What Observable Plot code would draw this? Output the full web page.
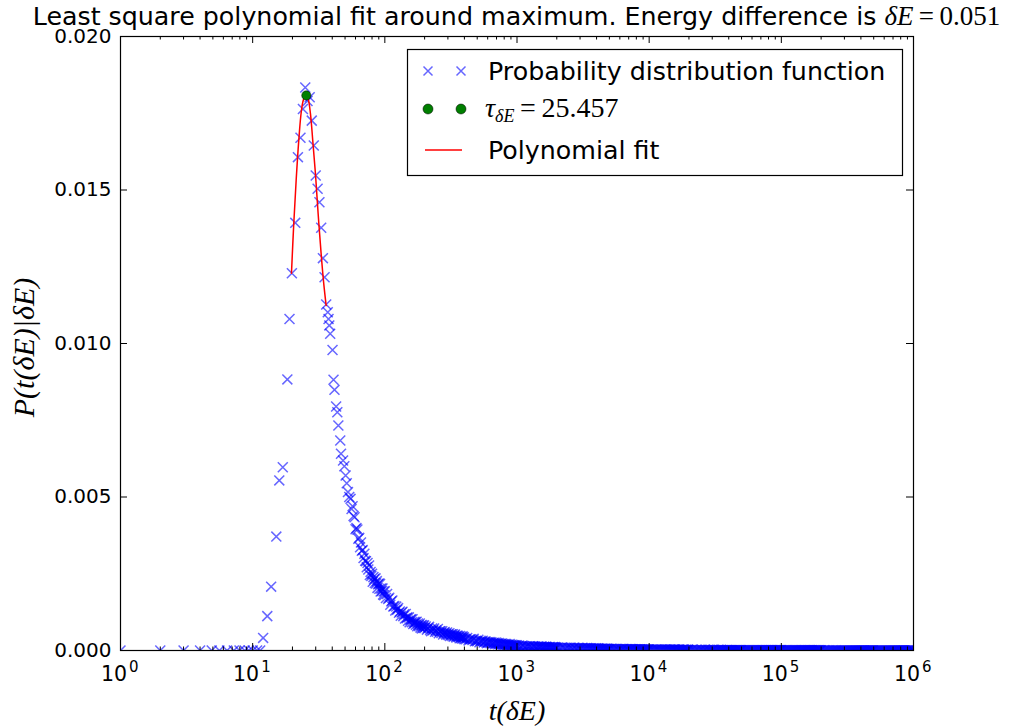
<!DOCTYPE html>
<html><head><meta charset="utf-8">
<script src="https://cdn.jsdelivr.net/npm/d3@7"></script>
<script src="https://cdn.jsdelivr.net/npm/@observablehq/plot@0.6"></script>
<style>
body{margin:0;background:#fff;width:1015px;height:727px;position:relative;overflow:hidden;font-family:"DejaVu Sans";}
#title{position:absolute;left:516.5px;top:7.5px;transform:translateX(-50%);white-space:nowrap;font-family:"DejaVu Sans";font-size:25.3px;line-height:16px;color:#000;}
#chart{position:absolute;left:0;top:30px;}
#chart svg{overflow:visible;}
#legend{position:absolute;left:407px;top:49px;overflow:visible;}
</style></head><body>
<div id="title">Least square polynomial fit around maximum. Energy difference is <span style="font-family:'Liberation Serif';font-size:27px;line-height:16px"><i>δE</i>&#8201;=&#8201;0.051</span></div>
<div id="chart"></div>
<svg id="legend" width="497" height="128"></svg>
<script>
// ---- data ----
// peak region
const pdfT = [1,2,3,4,4.9,5.6,6.4,7.2,7.95,8.7,9.35,10.0,10.8,11.4,
  12.0,12.9,13.8,15.1,15.9,16.9,18.3,19.0,19.8,21,22,23,24,25,26,27,28,29,30,31,32,33,34,35,36,37,37.5,38,38.6,40.2,40.9,41.6,42.8,43.7,44.5,46.0,46.6,48.3,49.4,50.5,51.5,52.6,53.8];
const pdfP = [0,0,0,0,0,0,0,0,0,0,0,0,0,0,
  0.00041,0.00112,0.00208,0.00371,0.00554,0.00597,0.00883,0.0108,0.01229,0.01393,0.01607,0.0167,0.01764,0.01834,0.0179,0.01802,0.01726,0.01645,0.01547,0.01504,0.0146,0.01377,0.01278,0.01216,0.01127,0.01102,0.0108,0.01059,0.01032,0.00979,0.00882,0.00849,0.00795,0.00776,0.00733,0.00684,0.00641,0.00619,0.006,0.0057,0.00545,0.00516,0.005];

// decaying band (dense, noisy)
const midT = [55,56,57,58,59,60,61,62,63,64,65,66,67,68,69,70,71,72,73,74,75,76,77,78,79,80,81,82,83,84,85,86,87,88,89,90,91,92,93,94,95,96,97,98,99,100,
  102,104,106,108,110,112,114,116,118,120,122,124,126,128,130,132,134,136,138,140,142,144,146,148,150,152,154,156,158,160,162,164,166,168,170,172,174,176,178,180,182,184,186,188,190,192,194,196,198,200,
  204,208,212,216,220,224,228,232,236,240,244,248,252,256,260,264,268,272,276,280,284,288,292,296,300,304,308,312,316,320,324,328,332,336,340,344,348,352,356,360,364,368,372,376,380,384,388,392,396,400,
  410,420,430,440,450,460,470,480,490,500,510,520,530,540,550,560,570,580,590,600,610,620,630,640,650,660,670,680,690,700,710,720,730,740,750,760,770,780,790,800,810,820,830,840,850,860,870,880,890,900,910,920,930,940,950,960,970,980,990,1000];
const midP = [0.00494,0.00461,0.0047,0.00438,0.00434,0.00395,0.00399,0.00394,0.00364,0.00367,0.00336,0.00352,0.00325,0.00327,0.00301,0.00315,0.00292,0.00291,0.00271,0.00285,0.00264,0.00277,0.00246,0.00256,0.00243,0.0025,0.00224,0.00239,0.00232,0.0022,0.00235,0.00218,0.00226,0.00204,0.00216,0.00218,0.00201,0.00217,0.00192,0.00202,0.00194,0.00202,0.00182,0.00192,0.0018,0.00193,
  0.00171,0.00184,0.00168,0.00172,0.00149,0.0016,0.00163,0.00143,0.00145,0.0013,0.00143,0.00133,0.00138,0.00123,0.00127,0.00113,0.00124,0.00126,0.00112,0.00118,0.00104,0.00119,0.00105,0.00108,0.00097,0.00108,0.00092,0.001,0.00102,0.00092,0.00102,0.00086,0.00093,0.00089,0.00093,0.00084,0.00094,0.00079,0.00088,0.00083,0.0008,0.00088,0.00075,0.00082,0.00072,0.00083,0.00078,0.00073,0.00082,0.00073,
  0.00078,0.00068,0.00073,0.00077,0.00067,0.00063,0.00072,0.00066,0.00072,0.00061,0.00066,0.00061,0.0007,0.00056,0.00063,0.00063,0.00057,0.00063,0.00052,0.00058,0.0006,0.00055,0.00051,0.00059,0.00053,0.0005,0.00056,0.00047,0.00052,0.00053,0.00047,0.00053,0.00045,0.00049,0.00052,0.00046,0.00042,0.00048,0.00048,0.00045,0.00045,0.0004,0.00047,0.00041,0.00044,0.00039,0.00046,0.0004,0.00043,0.00037,
  0.00037,0.00041,0.00033,0.00037,0.00037,0.00034,0.00038,0.0003,0.00032,0.0003,0.00035,0.00027,0.00032,0.00029,0.00032,0.00026,0.00029,0.00029,0.00024,0.00027,0.00025,0.00028,0.00024,0.00027,0.00022,0.00024,0.00025,0.00021,0.00026,0.00022,0.00024,0.0002,0.00024,0.0002,0.00022,0.00019,0.00023,0.00019,0.00021,0.00017,0.00021,0.00019,0.00021,0.00018,0.00018,0.00019,0.00016,0.00021,0.00016,0.00018,0.00015,0.00019,0.00015,0.00018,0.00014,0.00017,0.00013,0.00017,0.00014,0.00017];

// far tail: times = mantissa x decade; two interleaved sets of mantissas, one value list per decade and set
const tailMantissaA = [1.04,1.08,1.12,1.16,1.2,1.24,1.28,1.32,1.36,1.4,1.44,1.48,1.52,1.56,1.6,1.64,1.68,1.72,1.76,1.8,1.84,1.88,1.92,1.96,2,
  2.1,2.2,2.3,2.4,2.5,2.6,2.7,2.8,2.9,3,3.1,3.2,3.3,3.4,3.5,3.6,3.7,3.8,3.9,4,4.1,4.2,4.3,4.4,4.5,4.6,4.7,4.8,4.9,5,
  5.2,5.4,5.6,5.8,6,6.2,6.4,6.6,6.8,7,7.2,7.4,7.6,7.8,8,8.2,8.4,8.6,8.8,9,9.2,9.4,9.6,9.8,10];
const tailMantissaB = [1.02,1.06,1.1,1.14,1.18,1.22,1.26,1.3,1.34,1.38,1.42,1.46,1.5,1.54,1.58,1.62,1.66,1.7,1.74,1.78,1.82,1.86,1.9,1.94,1.98,
  2.05,2.15,2.25,2.35,2.45,2.55,2.65,2.75,2.85,2.95,3.05,3.15,3.25,3.35,3.45,3.55,3.65,3.75,3.85,3.95,4.05,4.15,4.25,4.35,4.45,4.55,4.65,4.75,4.85,4.95,
  5.1,5.3,5.5,5.7,5.9,6.1,6.3,6.5,6.7,6.9,7.1,7.3,7.5,7.7,7.9,8.1,8.3,8.5,8.7,8.9,9.1,9.3,9.5,9.7,9.9];
const tailDecades = [1000, 10000, 100000];
const tailP3A = [0.00016,0.00013,0.00015,0.00012,0.00014,0.00013,0.00011,0.00014,0.00012,0.0001,0.00013,0.00011,0.00012,0.0001,0.00012,0.00009,0.00011,0.0001,0.00011,0.00009,0.0001,0.00011,0.00008,0.0001,0.00009,
  0.00008,0.0001,0.00007,0.00009,0.00008,0.00007,0.00009,0.00006,0.00008,0.00007,0.00008,0.00006,0.00007,0.00008,0.00006,0.00007,0.00005,0.00007,0.00006,0.00005,0.00007,0.00006,0.00005,0.00006,0.00004,0.00006,0.00005,0.00006,0.00004,0.00005,
  0.00006,0.00004,0.00005,0.00004,0.00005,0.00003,0.00005,0.00004,0.00004,0.00003,0.00005,0.00004,0.00003,0.00004,0.00003,0.00004,0.00003,0.00003,0.00004,0.00002,0.00003,0.00003,0.00002,0.00003,0.00003];
const tailP3B = [0.00014,0.00012,0.00016,0.00011,0.00013,0.00012,0.00014,0.0001,0.00013,0.00012,0.0001,0.00012,0.00011,0.00013,0.00009,0.00011,0.00012,0.00009,0.0001,0.00011,0.00009,0.0001,0.00009,0.00011,0.00008,
  0.00009,0.00008,0.00009,0.00007,0.00008,0.00009,0.00006,0.00008,0.00007,0.00008,0.00006,0.00008,0.00007,0.00006,0.00007,0.00006,0.00007,0.00005,0.00006,0.00007,0.00005,0.00006,0.00005,0.00006,0.00005,0.00004,0.00006,0.00005,0.00005,0.00004,
  0.00005,0.00005,0.00004,0.00005,0.00003,0.00004,0.00005,0.00003,0.00004,0.00004,0.00003,0.00004,0.00004,0.00003,0.00004,0.00003,0.00003,0.00004,0.00003,0.00003,0.00002,0.00003,0.00003,0.00002,0.00003];
const tailP4A = [0.00003,0.00002,0.00003,0.00003,0.00002,0.00003,0.00002,0.00003,0.00002,0.00002,0.00003,0.00002,0.00002,0.00003,0.00002,0.00002,0.00002,0.00001,0.00002,0.00002,0.00002,0.00001,0.00002,0.00002,0.00001,
  0.00002,0.00001,0.00002,0.00001,0.00002,0.00001,0.00001,0.00002,0.00001,0.00001,0.00002,0.00001,0.00001,0.00001,0.00002,0.00001,0.00001,0.00001,0.000012,0.00001,0.000009,0.00001,0.000011,0.000009,0.00001,0.000009,0.00001,0.000008,0.00001,0.000009,
  0.00001,0.000008,0.00001,0.00001,0.000008,0.00001,0.000008,0.000008,0.00001,0.000008,0.000008,0.000007,0.000008,0.000008,0.000007,0.000008,0.000007,0.000007,0.000008,0.000006,0.000007,0.000007,0.000006,0.000007,0.000006];
const tailP4B = [0.00002,0.00003,0.00002,0.00003,0.00002,0.00002,0.00003,0.00002,0.00002,0.00003,0.00002,0.00002,0.00002,0.00003,0.00002,0.00001,0.00002,0.00002,0.00001,0.00002,0.00002,0.00001,0.00002,0.00001,0.00002,
  0.00001,0.00002,0.00001,0.00001,0.00002,0.00001,0.00002,0.00001,0.00001,0.00001,0.00002,0.00001,0.00001,0.00002,0.00001,0.00001,0.00001,0.00001,0.00001,0.000009,0.00001,0.000011,0.00001,0.000009,0.00001,0.000008,0.00001,0.000009,0.00001,0.000008,
  0.000009,0.00001,0.000008,0.000009,0.00001,0.000008,0.000009,0.000008,0.000007,0.000009,0.000008,0.000008,0.000007,0.000008,0.000007,0.000007,0.000008,0.000006,0.000007,0.000007,0.000006,0.000007,0.000006,0.000006,0.000006];
const tailP5A = [0.000006,0.000006,0.000005,0.000006,0.000005,0.000005,0.000006,0.000005,0.000005,0.000005,0.000004,0.000005,0.000005,0.000004,0.000005,0.000004,0.000004,0.000005,0.000004,0.000004,0.000004,0.000004,0.000004,0.000003,0.000004,
  0.000004,0.000003,0.000004,0.000003,0.000003,0.000004,0.000003,0.000003,0.000003,0.000003,0.000003,0.000003,0.000002,0.000003,0.000003,0.000003,0.000002,0.000003,0.000002,0.000003,0.000002,0.000002,0.000003,0.000002,0.000002,0.000002,0.000002,0.000002,0.000002,0.000002,
  0.000002,0.000002,0.000002,0.000002,0.000002,0.000001,0.000002,0.000002,0.000001,0.000002,0.000002,0.000001,0.000002,0.000001,0.000001,0.000002,0.000001,0.000001,0.000001,0.000001,0.000001,0.000001,0.000001,0.000001,0.000001];
const tailP5B = [0.000005,0.000006,0.000006,0.000005,0.000005,0.000006,0.000005,0.000004,0.000005,0.000005,0.000005,0.000004,0.000005,0.000004,0.000004,0.000005,0.000004,0.000004,0.000004,0.000005,0.000003,0.000004,0.000004,0.000004,0.000003,
  0.000003,0.000004,0.000003,0.000003,0.000004,0.000003,0.000003,0.000003,0.000002,0.000003,0.000003,0.000002,0.000003,0.000003,0.000002,0.000003,0.000002,0.000002,0.000003,0.000002,0.000002,0.000002,0.000002,0.000002,0.000002,0.000001,0.000002,0.000002,0.000002,0.000001,
  0.000002,0.000001,0.000002,0.000002,0.000001,0.000002,0.000001,0.000002,0.000001,0.000001,0.000002,0.000001,0.000001,0.000001,0.000001,0.000001,0.000001,0.000001,0.000001,0.000001,0.000001,0.000001,0.000001,0.000001,0.000001];

const fitT = [19.66,20.46,21.33,22.32,23.39,24.35,25.46,26.29,27.36,28.49,29.86,31.30,32.97,34.50,35.97];
const fitP = [0.01229,0.0139,0.01531,0.01661,0.01759,0.01797,0.01808,0.01797,0.01749,0.01661,0.01553,0.01422,0.01292,0.01195,0.01124];

const tauT = [25.457];
const tauP = [0.01808];

const xMajorTicks = [1,10,100,1000,10000,100000,1000000];
const xMinorFactors = [2,3,4,5,6,7,8,9];
const yTicks = [0,0.005,0.010,0.015,0.020];
const yTickLabels = ["0.000","0.005","0.010","0.015","0.020"];
const legendLabels = ["Probability distribution function","τ","Polynomial fit"];

// ---- build tables ----
const tailSets = [
  [tailMantissaA, [tailP3A, tailP4A, tailP5A]],
  [tailMantissaB, [tailP3B, tailP4B, tailP5B]]
];
const pdf = [
  ...pdfT.map((t,i)=>({t, p: pdfP[i]})),
  ...midT.map((t,i)=>({t, p: midP[i]})),
  ...tailSets.flatMap(([mant, lists]) => tailDecades.flatMap((d,k)=>mant.map((m,i)=>({t: m*d, p: lists[k][i]}))))
];
const fit = fitT.map((t,i)=>({t, p: fitP[i]}));
const tau = tauT.map((t,i)=>({t, p: tauP[i]}));
const xMinorTicks = xMajorTicks.slice(0,-1).flatMap(m => xMinorFactors.map(f => m*f));
const yTickData = yTicks.map((v,i)=>({v, label: yTickLabels[i]}));

const W = 1015, H = 697, mL = 120, mR = 102, mT = 6, mB = 77;
const fw = W - mL - mR, fh = H - mT - mB;
const majorLen = 7, minorLen = 3.5;
const tickFont = "DejaVu Sans";

const chart = Plot.plot({
  width: W, height: H,
  marginLeft: mL, marginRight: mR, marginTop: mT, marginBottom: mB,
  x: {type: "log", domain: [1, 1e6], axis: null},
  y: {domain: [0, 0.02], axis: null},
  style: {background: "white", overflow: "visible"},
  marks: [
    Plot.dot(pdf, {x: "t", y: "p", symbol: "times", r: 4.6, stroke: "blue", strokeOpacity: 0.6, strokeWidth: 1.5, clip: true}),
    Plot.line(fit, {x: "t", y: "p", stroke: "red", strokeWidth: 1.5, curve: "catmull-rom"}),
    Plot.dot(tau, {x: "t", y: "p", r: 4.6, fill: "#007f00", stroke: "black", strokeWidth: 0.5}),
    // ticks inside the frame on all four sides
    Plot.tickX(xMajorTicks, {x: d=>d, stroke: "black", strokeWidth: 1, insetTop: fh - majorLen}),
    Plot.tickX(xMajorTicks, {x: d=>d, stroke: "black", strokeWidth: 1, insetBottom: fh - majorLen}),
    Plot.tickX(xMinorTicks, {x: d=>d, stroke: "black", strokeWidth: 1, insetTop: fh - minorLen}),
    Plot.tickX(xMinorTicks, {x: d=>d, stroke: "black", strokeWidth: 1, insetBottom: fh - minorLen}),
    Plot.tickY(yTicks, {y: d=>d, stroke: "black", strokeWidth: 1, insetRight: fw - majorLen}),
    Plot.tickY(yTicks, {y: d=>d, stroke: "black", strokeWidth: 1, insetLeft: fw - majorLen}),
    Plot.frame({stroke: "black", strokeWidth: 1.2}),
    // y tick labels
    Plot.text(yTickData, {y: "v", text: "label", frameAnchor: "left", textAnchor: "end", lineAnchor: "middle", dx: -9, fontSize: 20, fontFamily: tickFont, fill: "black"}),
    // x tick labels: 10 with superscript exponent
    Plot.text(xMajorTicks, {x: d=>d, text: () => "10", frameAnchor: "bottom", textAnchor: "end", lineAnchor: "middle", dx: 6.5, dy: 23.5, fontSize: 20.5, fontFamily: tickFont, fill: "black"}),
    Plot.text(xMajorTicks, {x: d=>d, text: d => String(Math.round(Math.log10(d))), frameAnchor: "bottom", textAnchor: "start", lineAnchor: "middle", dx: 8.5, dy: 17, fontSize: 15, fontFamily: tickFont, fill: "black"}),
    // axis labels
    Plot.text(["t(δE)"], {text: d=>d, frameAnchor: "bottom", textAnchor: "middle", lineAnchor: "middle", dy: 61, fontSize: 28, fontFamily: "Liberation Serif", fontStyle: "italic", fill: "black"}),
    Plot.text(["P(t(δE)|δE)"], {text: d=>d, frameAnchor: "left", textAnchor: "middle", lineAnchor: "middle", dx: -96, dy: 4, rotate: -90, fontSize: 30, fontFamily: "Liberation Serif", fontStyle: "italic", fill: "black"})
  ]
});
document.getElementById("chart").appendChild(chart);

// ---- legend ----
const lg = d3.select("#legend");
lg.append("rect").attr("x",0.5).attr("y",0.5).attr("width",495).attr("height",126)
  .attr("fill","white").attr("stroke","black").attr("stroke-width",1.2);
const rowY = [22, 60, 101];
[21, 54].forEach(cx => {
  lg.append("path").attr("d", `M${cx-4.5},${rowY[0]-4.5}L${cx+4.5},${rowY[0]+4.5}M${cx-4.5},${rowY[0]+4.5}L${cx+4.5},${rowY[0]-4.5}`)
    .attr("stroke","blue").attr("stroke-opacity",0.6).attr("stroke-width",1.5).attr("fill","none");
  lg.append("circle").attr("cx",cx).attr("cy",rowY[1]).attr("r",5).attr("fill","#007f00").attr("stroke","black").attr("stroke-width",0.5);
});
lg.append("line").attr("x1",18).attr("x2",55).attr("y1",rowY[2]).attr("y2",rowY[2]).attr("stroke","red").attr("stroke-width",1.5);
lg.append("text").attr("x",81).attr("y",rowY[0]+9).attr("font-family",tickFont).attr("font-size",25.3).text(legendLabels[0]);
const t2 = lg.append("text").attr("x",78).attr("y",rowY[1]+8).attr("font-family","Liberation Serif").attr("font-size",28);
t2.append("tspan").attr("font-style","italic").text(legendLabels[1]);
t2.append("tspan").attr("font-style","italic").attr("font-size",18).attr("dy",5).text("δE");
t2.append("tspan").attr("dy",-5).text("\u2009=\u200925.457");
lg.append("text").attr("x",81).attr("y",rowY[2]+9).attr("font-family",tickFont).attr("font-size",25.3).text(legendLabels[2]);
</script>
</body></html>
